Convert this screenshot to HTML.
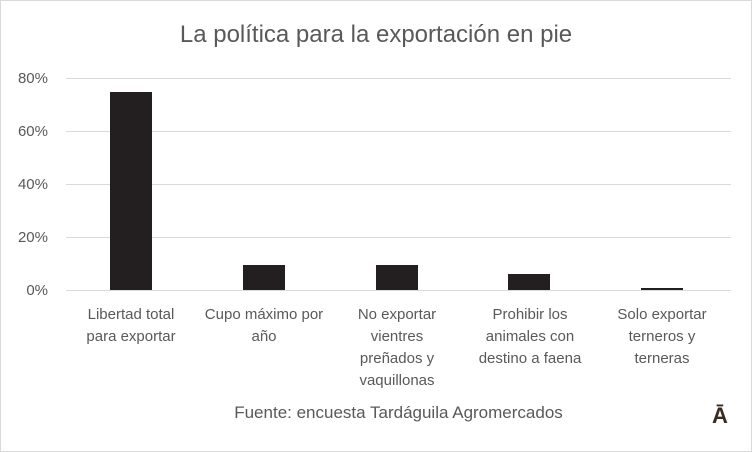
<!DOCTYPE html>
<html><head><meta charset="utf-8"><style>
body{margin:0;background:#fff;}
.c{position:relative;width:750px;height:450px;border:1px solid #d9d9d9;font-family:"Liberation Sans",sans-serif;color:#595959;overflow:hidden;}
.t{position:absolute;left:0;width:750px;top:20px;text-align:center;font-size:24px;}
.g{position:absolute;left:65px;width:665px;height:1px;background:#d9d9d9;}
.y{position:absolute;left:0;width:47px;text-align:right;font-size:15px;}
.b{position:absolute;background:#231f20;width:42px;}
.x{position:absolute;width:104px;text-align:center;font-size:15px;line-height:22px;top:303px;}
.f{position:absolute;left:0;width:795px;text-align:center;top:402px;font-size:17px;}
.l{position:absolute;left:711px;top:402px;font-size:22px;font-weight:bold;color:#3a2a22;}
</style></head><body><div class="c">
<div class="t">La política para la exportación en pie</div>
<div class="g" style="top:77px"></div><div class="g" style="top:130px"></div><div class="g" style="top:183px"></div><div class="g" style="top:236px"></div><div class="g" style="top:289px"></div>
<div class="y" style="top:69px">80%</div><div class="y" style="top:122px">60%</div><div class="y" style="top:175px">40%</div><div class="y" style="top:228px">20%</div><div class="y" style="top:281px">0%</div>
<div class="b" style="left:109px;top:91px;height:198px"></div>
<div class="b" style="left:242px;top:264px;height:25px"></div>
<div class="b" style="left:375px;top:264px;height:25px"></div>
<div class="b" style="left:507px;top:273px;height:16px"></div>
<div class="b" style="left:640px;top:287px;height:2px"></div>
<div class="x" style="left:78px">Libertad total para exportar</div>
<div class="x" style="left:193px;width:140px">Cupo máximo por año</div>
<div class="x" style="left:344px">No exportar vientres preñados y vaquillonas</div>
<div class="x" style="left:477px">Prohibir los animales con destino a faena</div>
<div class="x" style="left:609px">Solo exportar terneros y terneras</div>
<div class="f">Fuente: encuesta Tardáguila Agromercados</div>
<div class="l">Ā</div>
</div></body></html>
